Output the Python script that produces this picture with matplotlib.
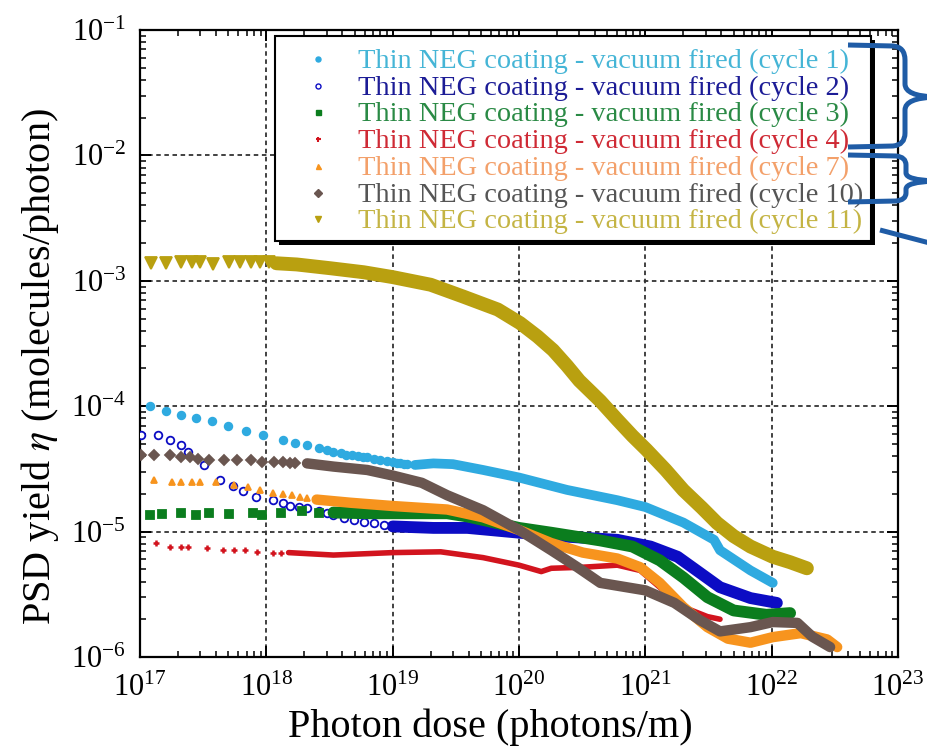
import matplotlib
matplotlib.use("Agg")
import matplotlib.pyplot as plt
import matplotlib.transforms as mtransforms
from matplotlib.lines import Line2D
from matplotlib.patches import Rectangle, PathPatch
from matplotlib.path import Path
from matplotlib.ticker import LogLocator, NullFormatter

plt.rcParams['font.family'] = ['Liberation Serif', 'DejaVu Serif']
plt.rcParams['mathtext.fontset'] = 'stix'

# ---------------------------------------------------------------- data
# Each cycle: isolated early points (drawn as markers) and the dense
# part of the measurement (drawn as a thick band).
cycles = [1, 2, 3, 4, 7, 10, 11]
labels = [f"Thin NEG coating - vacuum fired (cycle {c})" for c in cycles]

c1_pts_dose = [1.2e17, 1.6e17, 2.1e17, 2.8e17, 3.7e17, 5.0e17, 6.9e17, 9.4e17,
               1.35e18, 1.7e18, 2.1e18, 2.6e18, 3.0e18, 3.4e18, 3.9e18, 4.3e18,
               4.8e18, 5.3e18, 5.8e18, 6.3e18, 7.1e18, 8.0e18, 9.0e18, 1.0e19,
               1.08e19, 1.15e19, 1.22e19, 1.3e19]
c1_pts_eta = [1.0e-4, 9.1e-5, 8.5e-5, 8.1e-5, 7.6e-5, 6.9e-5, 6.4e-5, 5.9e-5,
              5.4e-5, 5.1e-5, 4.9e-5, 4.6e-5, 4.45e-5, 4.3e-5, 4.2e-5, 4.1e-5,
              4.05e-5, 4.0e-5, 3.95e-5, 3.9e-5, 3.8e-5, 3.7e-5, 3.65e-5, 3.6e-5,
              3.55e-5, 3.5e-5, 3.47e-5, 3.45e-5]
c1_band_dose = [1.5e19, 2.1e19, 3.0e19, 5.2e19, 1.0e20, 2.4e20, 6.0e20, 1.0e21,
                2.0e21, 3.5e21, 3.9e21, 6.8e21, 1.02e22]
c1_band_eta = [3.4e-5, 3.5e-5, 3.45e-5, 3.1e-5, 2.7e-5, 2.15e-5, 1.78e-5, 1.57e-5,
               1.18e-5, 8.6e-6, 7.1e-6, 4.9e-6, 3.9e-6]

c2_pts_dose = [1.02e17, 1.38e17, 1.74e17, 2.1e17, 2.4e17, 3.2e17, 4.3e17, 5.4e17,
               6.5e17, 8.3e17, 1.12e18, 1.35e18, 1.55e18, 1.8e18, 2.1e18, 2.6e18,
               3.0e18, 3.4e18, 4.1e18, 4.9e18, 5.9e18, 7.1e18, 8.5e18]
c2_pts_eta = [5.9e-5, 5.9e-5, 5.4e-5, 4.9e-5, 4.3e-5, 3.4e-5, 2.6e-5, 2.3e-5,
              2.1e-5, 1.9e-5, 1.8e-5, 1.7e-5, 1.6e-5, 1.58e-5, 1.55e-5, 1.45e-5,
              1.4e-5, 1.35e-5, 1.28e-5, 1.23e-5, 1.2e-5, 1.17e-5, 1.13e-5]
c2_band_dose = [1.0e19, 2.1e19, 3.9e19, 1.0e20, 2.4e20, 6.0e20, 1.1e21, 1.8e21,
                2.7e21, 3.9e21, 6.8e21, 1.1e22]
c2_band_eta = [1.1e-5, 1.07e-5, 1.07e-5, 9.8e-6, 9.1e-6, 8.6e-6, 7.6e-6, 6.3e-6,
               4.7e-6, 3.6e-6, 2.95e-6, 2.7e-6]

c3_pts_dose = [1.2e17, 1.5e17, 2.1e17, 2.8e17, 3.5e17, 5.1e17, 7.8e17, 9.3e17,
               1.3e18, 1.9e18, 2.6e18]
c3_pts_eta = [1.35e-5, 1.38e-5, 1.4e-5, 1.36e-5, 1.42e-5, 1.37e-5, 1.42e-5, 1.36e-5,
              1.4e-5, 1.45e-5, 1.42e-5]
c3_band_dose = [3.4e18, 6.3e18, 1.15e19, 2.7e19, 3.9e19, 1.0e20, 1.8e20, 4.4e20,
                7.9e20, 1.3e21, 2.0e21, 3.1e21, 5.0e21, 9.1e21, 1.4e22]
c3_band_eta = [1.42e-5, 1.4e-5, 1.4e-5, 1.4e-5, 1.32e-5, 1.07e-5, 9.8e-6, 8.5e-6,
               7.6e-6, 5.9e-6, 4.3e-6, 3.0e-6, 2.35e-6, 2.17e-6, 2.24e-6]

c4_pts_dose = [1.35e17, 1.74e17, 2.1e17, 2.4e17, 3.4e17, 4.5e17, 5.5e17, 6.8e17,
               8.5e17, 1.12e18, 1.3e18]
c4_pts_eta = [8.1e-6, 7.6e-6, 7.6e-6, 7.6e-6, 7.4e-6, 7.1e-6, 7.1e-6, 7.1e-6,
              6.9e-6, 6.8e-6, 6.8e-6]
c4_band_dose = [1.5e18, 3.4e18, 1.0e19, 2.4e19, 5.2e19, 1.0e20, 1.5e20, 1.8e20,
                3.2e20, 6.0e20, 9.1e20, 1.3e21, 2.0e21, 3.1e21, 3.9e21]
c4_band_eta = [6.8e-6, 6.5e-6, 6.8e-6, 6.9e-6, 6.2e-6, 5.4e-6, 4.8e-6, 5.1e-6,
               5.2e-6, 5.4e-6, 4.9e-6, 3.6e-6, 2.5e-6, 2.1e-6, 2.0e-6]

c7_pts_dose = [1.3e17, 1.78e17, 2.1e17, 2.6e17, 3.0e17, 4.0e17, 5.5e17, 7.2e17,
               8.9e17, 1.12e18, 1.35e18, 1.6e18, 1.85e18, 2.1e18]
c7_pts_eta = [2.6e-5, 2.5e-5, 2.5e-5, 2.5e-5, 2.5e-5, 2.5e-5, 2.35e-5, 2.25e-5,
              2.15e-5, 2.05e-5, 2.0e-5, 1.95e-5, 1.9e-5, 1.85e-5]
c7_band_dose = [2.5e18, 4.6e18, 1.0e19, 2.7e19, 5.2e19, 1.0e20, 1.8e20, 3.2e20,
                6.0e20, 9.1e20, 1.3e21, 2.0e21, 3.1e21, 4.5e21, 6.8e21, 1.02e22,
                1.7e22, 2.75e22, 3.3e22]
c7_band_eta = [1.8e-5, 1.7e-5, 1.6e-5, 1.5e-5, 1.3e-5, 1.03e-5, 8.1e-6, 6.8e-6,
               6.1e-6, 5.2e-6, 3.9e-6, 2.5e-6, 1.73e-6, 1.4e-6, 1.3e-6, 1.44e-6,
               1.55e-6, 1.38e-6, 1.2e-6]

c10_pts_dose = [1.02e17, 1.3e17, 1.74e17, 2.1e17, 2.5e17, 2.9e17, 3.5e17, 4.6e17,
                5.9e17, 7.5e17, 9.3e17, 1.15e18, 1.35e18, 1.55e18, 1.7e18]
c10_pts_eta = [4.1e-5, 4.1e-5, 4.1e-5, 3.9e-5, 3.9e-5, 3.8e-5, 3.7e-5, 3.7e-5,
               3.7e-5, 3.7e-5, 3.6e-5, 3.6e-5, 3.6e-5, 3.55e-5, 3.55e-5]
c10_band_dose = [2.1e18, 3.4e18, 6.3e18, 1.0e19, 1.7e19, 2.7e19, 5.2e19, 1.0e20,
                 1.8e20, 2.9e20, 4.4e20, 7.1e20, 1.0e21, 1.7e21, 2.7e21, 3.9e21,
                 6.8e21, 1.02e22, 1.6e22, 2.1e22, 2.9e22]
c10_band_eta = [3.5e-5, 3.3e-5, 3.1e-5, 2.8e-5, 2.45e-5, 1.95e-5, 1.48e-5, 1.03e-5,
                7.1e-6, 5.2e-6, 3.9e-6, 3.6e-6, 3.4e-6, 2.7e-6, 1.97e-6, 1.6e-6,
                1.73e-6, 1.9e-6, 1.87e-6, 1.45e-6, 1.2e-6]

c11_pts_dose = [1.23e17, 1.6e17, 2.1e17, 2.6e17, 3.0e17, 3.8e17, 5.1e17, 6.2e17,
                7.6e17, 8.9e17, 1.05e18]
c11_pts_eta = [1.38e-3, 1.38e-3, 1.41e-3, 1.41e-3, 1.42e-3, 1.37e-3, 1.42e-3,
               1.42e-3, 1.42e-3, 1.41e-3, 1.4e-3]
c11_band_dose = [1.2e18, 1.74e18, 3.2e18, 5.9e18, 1.0e19, 2.0e19, 3.6e19, 6.8e19,
                 1.02e20, 1.4e20, 1.86e20, 2.4e20, 3.0e20, 4.4e20, 6.0e20, 7.9e20,
                 1.02e21, 1.45e21, 2.0e21, 2.8e21, 3.7e21, 5.0e21, 6.8e21, 1.02e22,
                 1.4e22, 1.9e22]
c11_band_eta = [1.38e-3, 1.35e-3, 1.26e-3, 1.17e-3, 1.07e-3, 9.3e-4, 7.5e-4, 5.9e-4,
                4.6e-4, 3.6e-4, 2.8e-4, 2.1e-4, 1.6e-4, 1.1e-4, 7.8e-5, 5.8e-5,
                4.5e-5, 3.1e-5, 2.14e-5, 1.55e-5, 1.17e-5, 9.2e-6, 7.6e-6, 6.3e-6,
                5.7e-6, 5.1e-6]

x_limits = (1e17, 1e23)
y_limits = (1e-6, 1e-1)

# ---------------------------------------------------------------- styles
series = [
    dict(px=c1_pts_dose, py=c1_pts_eta, bx=c1_band_dose, by=c1_band_eta,
         color='#2FAAE0', text='#45B5D6', marker='o', ms=5.5, mfc=None, lw=7),
    dict(px=c2_pts_dose, py=c2_pts_eta, bx=c2_band_dose, by=c2_band_eta,
         color='#0C0CC4', text='#1C1C96', marker='o', ms=5.5, mfc='white', lw=8.5),
    dict(px=c3_pts_dose, py=c3_pts_eta, bx=c3_band_dose, by=c3_band_eta,
         color='#0B7D1E', text='#2A8A45', marker='s', ms=5.5, mfc=None, lw=8.5),
    dict(px=c4_pts_dose, py=c4_pts_eta, bx=c4_band_dose, by=c4_band_eta,
         color='#D2141E', text='#CF2A35', marker='+', ms=5, mfc=None, lw=4),
    dict(px=c7_pts_dose, py=c7_pts_eta, bx=c7_band_dose, by=c7_band_eta,
         color='#F7941E', text='#F3A06A', marker='^', ms=4.5, mfc=None, lw=7.5),
    dict(px=c10_pts_dose, py=c10_pts_eta, bx=c10_band_dose, by=c10_band_eta,
         color='#6A5650', text='#555555', marker='D', ms=5, mfc=None, lw=7.5),
    dict(px=c11_pts_dose, py=c11_pts_eta, bx=c11_band_dose, by=c11_band_eta,
         color='#B9A010', text='#C4B444', marker='v', ms=8, mfc=None, lw=10),
]

W, H = 928, 756
fig = plt.figure(figsize=(W / 100, H / 100), dpi=100)
ax = fig.add_axes([140 / W, 1 - 657 / H, 758 / W, 627 / H])
ax.set_xscale('log')
ax.set_yscale('log')
ax.set_xlim(*x_limits)
ax.set_ylim(*y_limits)

for z, s in enumerate(series):
    ax.plot(s['bx'], s['by'], color=s['color'], lw=s['lw'],
            solid_capstyle='round', solid_joinstyle='round', zorder=3 + z * 0.1)
    mew = 1.8 if s['marker'] == '+' else 1.3
    ax.plot(s['px'], s['py'], ls='none', marker=s['marker'], ms=s['ms'],
            color=s['color'], mfc=s['mfc'] if s['mfc'] else s['color'],
            mec=s['color'], mew=mew, zorder=3 + z * 0.1)

# axes frame, ticks and dotted grid
for sp in ax.spines.values():
    sp.set_linewidth(1.6)
ax.xaxis.set_major_locator(LogLocator(base=10, numticks=10))
ax.yaxis.set_major_locator(LogLocator(base=10, numticks=10))
ax.xaxis.set_minor_locator(LogLocator(base=10, subs=range(2, 10), numticks=12))
ax.yaxis.set_minor_locator(LogLocator(base=10, subs=range(2, 10), numticks=12))
ax.xaxis.set_minor_formatter(NullFormatter())
ax.yaxis.set_minor_formatter(NullFormatter())
ax.tick_params(which='both', direction='in', top=True, right=True, color='black')
ax.tick_params(which='major', length=8, width=1.4, labelsize=22)
ax.tick_params(which='minor', length=4, width=1.1)
ax.tick_params(axis='x', which='major', pad=12)
ax.tick_params(axis='y', which='major', pad=10)
ax.grid(True, which='major', color='#333333', lw=1.3, ls=(0, (2.5, 2)))

ax.set_xlabel('Photon dose (photons/m)', fontsize=29)
ax.set_ylabel(r'PSD yield $\eta$ (molecules/photon)', fontsize=29)
ax.xaxis.set_label_coords(0.462, -0.082)
ax.yaxis.set_label_coords(-0.104, 0.4625)

# ---------------------------------------------------------------- legend
# pixel coordinates measured from the top-left corner of the figure
tpx = mtransforms.Affine2D().scale(1 / W, -1 / H).translate(0, 1) + fig.transFigure

fig.add_artist(Rectangle((279, 40), 596, 205, transform=tpx, facecolor='black',
                         edgecolor='none', zorder=5))
fig.add_artist(Rectangle((275, 36), 596, 205, transform=tpx, facecolor='white',
                         edgecolor='black', lw=1.5, zorder=6))
row0, row_step = 68, 26.7
for i, (s, lab) in enumerate(zip(series, labels)):
    yb = row0 + i * row_step
    mew = 1.5 if s['marker'] == '+' else 1.0
    fig.add_artist(Line2D([318], [yb - 9], transform=tpx, ls='none',
                          marker=s['marker'], ms=3.6 if s['marker'] != 'v' else 5,
                          color=s['color'], mfc=s['mfc'] if s['mfc'] else s['color'],
                          mec=s['color'], mew=mew, zorder=7))
    fig.text(358, yb, lab, transform=tpx, color=s['text'], fontsize=20.4,
             va='baseline', ha='left', zorder=7)

# braces grouping the legend entries
brace_color = '#1F5CA6'
V, L, C = Path.MOVETO, Path.LINETO, Path.CURVE3
brace1 = Path([(848, 45), (893, 46), (905, 47), (905, 60), (905, 84), (905, 96),
               (935, 97), (905, 98), (905, 110), (905, 133), (905, 145),
               (893, 146), (848, 147)],
              [V, L, C, C, L, C, C, C, C, L, C, C, L])
brace2 = Path([(848, 155), (896, 156), (906, 157), (906, 165), (906, 173),
               (906, 180), (935, 181), (906, 182), (906, 189), (906, 193),
               (906, 200), (896, 201), (848, 202)],
              [V, L, C, C, L, C, C, C, C, L, C, C, L])
pointer = Path([(880, 230), (945, 247)], [V, L])
for p in (brace1, brace2, pointer):
    fig.add_artist(PathPatch(p, transform=tpx, fill=False, edgecolor=brace_color,
                             lw=3.6, capstyle='butt', joinstyle='round', zorder=8))

fig.savefig('out.png', dpi=100, facecolor='white')
